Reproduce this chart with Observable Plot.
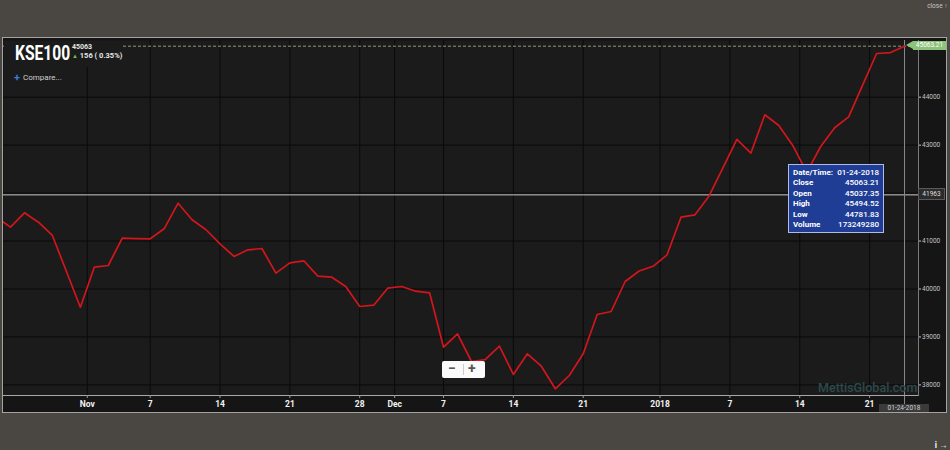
<!DOCTYPE html>
<html>
<head>
<meta charset="utf-8">
<script src="https://cdn.jsdelivr.net/npm/d3@7"></script>
<script src="https://cdn.jsdelivr.net/npm/@observablehq/plot@0.6"></script>
<style>
  html, body { margin: 0; padding: 0; background: #4a4742; }
  #wrap { position: relative; width: 950px; height: 450px; overflow: hidden; font-family: Roboto, "Noto Sans", sans-serif; }
  .abs { position: absolute; }
  #frame { left: 2px; top: 37px; width: 943px; height: 374px; border: 1px solid #a3a3a3; background: #151515; }
  #chart { left: 0; top: 0; }
  #chart svg { overflow: visible; }
  #hdr { left: 4px; top: 41px; width: 118px; height: 26px; background: #1b1b1b; }
  #ttl { left: 15px; top: 41px; font-size: 20px; font-weight: 700; color: #fff; transform: scaleX(0.78); transform-origin: left top; letter-spacing: 0; }
  #hv { left: 72px; top: 43px; font-size: 7px; font-weight: 700; color: #e6e6e6; }
  #hc { left: 72px; top: 51px; font-size: 7.5px; font-weight: 700; color: #e6e6e6; white-space: nowrap; }
  #hc .up { color: #6fbf4a; font-size: 6px; }
  #cmp { left: 14px; top: 70px; font-size: 8px; color: #cfcfcf; white-space: nowrap; }
  #cmp b { color: #3d78d8; font-size: 11px; font-weight: 700; margin-right: 3px; position: relative; top: 1px; }
  #tip { left: 788px; top: 164px; width: 96px; height: 69px; background: #1f3d95; border: 1px solid #aebbe6; box-sizing: border-box; padding: 3px 4px 0 4px; color: #fff; font-size: 8px; }
  #tip .row { display: flex; justify-content: space-between; height: 10.4px; line-height: 10.4px; }
  #tip .k { font-weight: 700; }
  #tip .v { font-weight: 500; }
  #zoomb { left: 442px; top: 361px; width: 43px; height: 17px; background: #fafafa; border-radius: 2px; color: #555; font-weight: 700; font-size: 14px; }
  #zoomb span { position: absolute; top: -1px; }
  #zoomb i { position: absolute; left: 21px; top: 3px; width: 1px; height: 11px; background: #ccc; }
  #wm { left: 818px; top: 380px; font-size: 12.5px; font-weight: 500; color: #2c4a4c; white-space: nowrap; }
  .lbl { font-size: 6.5px; text-align: center; white-space: nowrap; box-sizing: border-box; }
</style>
</head>
<body>
<div id="wrap">
  <div id="frame" class="abs"></div>
  <div id="chart" class="abs"></div>
</div>
<script>
// ---- data ----
const startDate = "2017-10-23";
const endDate = "2018-01-24";
const holidays = ["2017-12-01", "2017-12-25"];
const closeValues = [
  41497, 41289, 41589, 41393, 41116, 40369, 39620,
  40455, 40490, 41059, 41050, 41047, 41255, 41789, 41443, 41235, 40943, 40678, 40817, 40845,
  40330, 40546, 40588, 40267, 40246, 40052, 39635, 39662, 40017,
  40052, 39954, 39921, 38786, 39066, 38488, 38530, 38807, 38217, 38649, 38390, 37919, 38196,
  38649, 39468, 39531, 40156, 40375, 40473,
  40713, 41497, 41547, 41935, 42526, 43118, 42832, 43633, 43410, 42993, 42430, 42972,
  43362, 43591, 44250, 44911, 44930, 45063.21
];
const tickDates = ["2017-11-01", "2017-11-07", "2017-11-14", "2017-11-21", "2017-11-28", "2017-12-01",
  "2017-12-07", "2017-12-14", "2017-12-21", "2018-01-01", "2018-01-07", "2018-01-14", "2018-01-21"];
const tickLabels = ["Nov", "7", "14", "21", "28", "Dec", "7", "14", "21", "2018", "7", "14", "21"];
const yTicks = [38000, 39000, 40000, 41000, 42000, 43000, 44000];
const yDomain = [37779, 45182];
const crosshairValue = 41963;
const lastClose = 45063.21;
const lastDateLabel = "01-24-2018";
const title = "KSE100";
const headerValue = "45063";
const headerChange = "156 ( 0.35%)";
const tooltipKeys = ["Date/Time:", "Close", "Open", "High", "Low", "Volume"];
const tooltipVals = ["01-24-2018", "45063.21", "45037.35", "45494.52", "44781.83", "173249280"];

// ---- trading-day (ordinal) index ----
const parse = d3.utcParse("%Y-%m-%d"), fmt = d3.utcFormat("%Y-%m-%d");
const tradingDays = d3.utcDays(parse(startDate), d3.utcDay.offset(parse(endDate), 1))
  .filter(d => d.getUTCDay() % 6 !== 0 && !holidays.includes(fmt(d)));
const data = tradingDays.map((d, i) => ({ i: i + 1, date: d, close: closeValues[i] }));
const times = tradingDays.map(d => +d);
const tickPos = tickDates.map(s => {
  const t = parse(s);
  const k = d3.bisectLeft(times, +t);
  const exact = times[k] === +t && t.getUTCDate() !== 1;
  return exact ? k + 1 : k + 0.5;
});
const labelOf = new Map(tickPos.map((p, j) => [p, tickLabels[j]]));
const lastIdx = data.length;

const chart = Plot.plot({
  width: 950,
  height: 450,
  marginLeft: 3,
  marginRight: 32,
  marginTop: 40,
  marginBottom: 55,
  style: { background: "transparent", color: "#eee", fontFamily: "Roboto, sans-serif" },
  x: { type: "linear", domain: [1.5, lastIdx + 1] },
  y: { domain: yDomain },
  marks: [
    Plot.frame({ fill: "#1b1b1b", stroke: null }),
    Plot.ruleX(tickPos, { stroke: "#0a0a0a", strokeWidth: 1 }),
    Plot.ruleY(yTicks, { stroke: "#0a0a0a", strokeWidth: 1 }),
    Plot.ruleY([lastClose], { stroke: "#8e9c78", strokeWidth: 1, strokeDasharray: "3,2" }),
    Plot.ruleY([crosshairValue], { stroke: "#c8c8c8", strokeWidth: 1 }),
    Plot.ruleX([lastIdx], { stroke: "#8a8a8a", strokeWidth: 1, insetBottom: -17 }),
    Plot.line(data, { x: "i", y: "close", stroke: "#d2161c", strokeWidth: 1.7, clip: true }),
    Plot.frame({ anchor: "bottom", stroke: "#a8a8a8", strokeWidth: 1.2 }),
    Plot.frame({ anchor: "right", stroke: "#7a7a7a" }),
    Plot.axisX(tickPos, { anchor: "bottom", tickSize: 3, tickPadding: 2.5, fontSize: 8.5, fontWeight: "bold",
      fill: "#f2f2f2", stroke: "#9a9a9a", tickFormat: d => labelOf.get(d) }),
    Plot.axisY(yTicks, { anchor: "right", tickSize: 2, tickPadding: 1.5, fontSize: 6.5,
      fill: "#c4c4c4", stroke: "#c4c4c4", tickFormat: d3.format("d") })
  ]
});
document.getElementById("chart").appendChild(chart);

// ---- overlays positioned through the plot's own scales ----
const wrap = document.getElementById("wrap");
const sx = chart.scale("x"), sy = chart.scale("y");
function add(id, html, css) {
  const el = document.createElement("div");
  el.className = "abs";
  if (id) el.id = id;
  el.innerHTML = html;
  if (css) Object.assign(el.style, css);
  wrap.appendChild(el);
  return el;
}
add("hdr", "");
add("ttl", title);
add("hv", headerValue);
add("hc", `<span class="up">&#9650;</span> ${headerChange}`);
add("cmp", `<b>+</b>Compare...`);

// crosshair value label on the right axis
const yc = sy.apply(crosshairValue);
add(null, String(crosshairValue), {
  left: "918px", top: (yc - 6) + "px", width: "27px", height: "12px", lineHeight: "11px",
  background: "#2c2c2c", border: "1px solid #5a5a5a", color: "#dedede"
}).classList.add("lbl");

// last close label (green, arrowed)
const yl = sy.apply(lastClose);
add(null, "", {
  left: "906px", top: (yl - 4.5) + "px", width: "0", height: "0",
  borderTop: "4.5px solid transparent", borderBottom: "4.5px solid transparent", borderRight: "7px solid #8cc279"
});
add(null, d3.format(".2f")(lastClose), {
  left: "913px", top: (yl - 4.5) + "px", width: "33px", height: "9px", lineHeight: "9px",
  background: "#8cc279", color: "#ffffff"
}).classList.add("lbl");

// date label under vertical crosshair
const xl = sx.apply(lastIdx);
add(null, lastDateLabel, {
  left: (xl - 25) + "px", top: "404px", width: "50px", height: "8px", lineHeight: "8px",
  background: "#3a3a3a", color: "#cfcfcf"
}).classList.add("lbl");

// tooltip
add("tip", tooltipKeys.map((k, j) =>
  `<div class="row"><span class="k">${k}</span><span class="v">${tooltipVals[j]}</span></div>`).join(""));

// zoom buttons
add("zoomb", `<span style="left:6px">&minus;</span><i></i><span style="left:26px">+</span>`);

// watermark
add("wm", "MettisGlobal.com");
</script>
</body>
</html>
